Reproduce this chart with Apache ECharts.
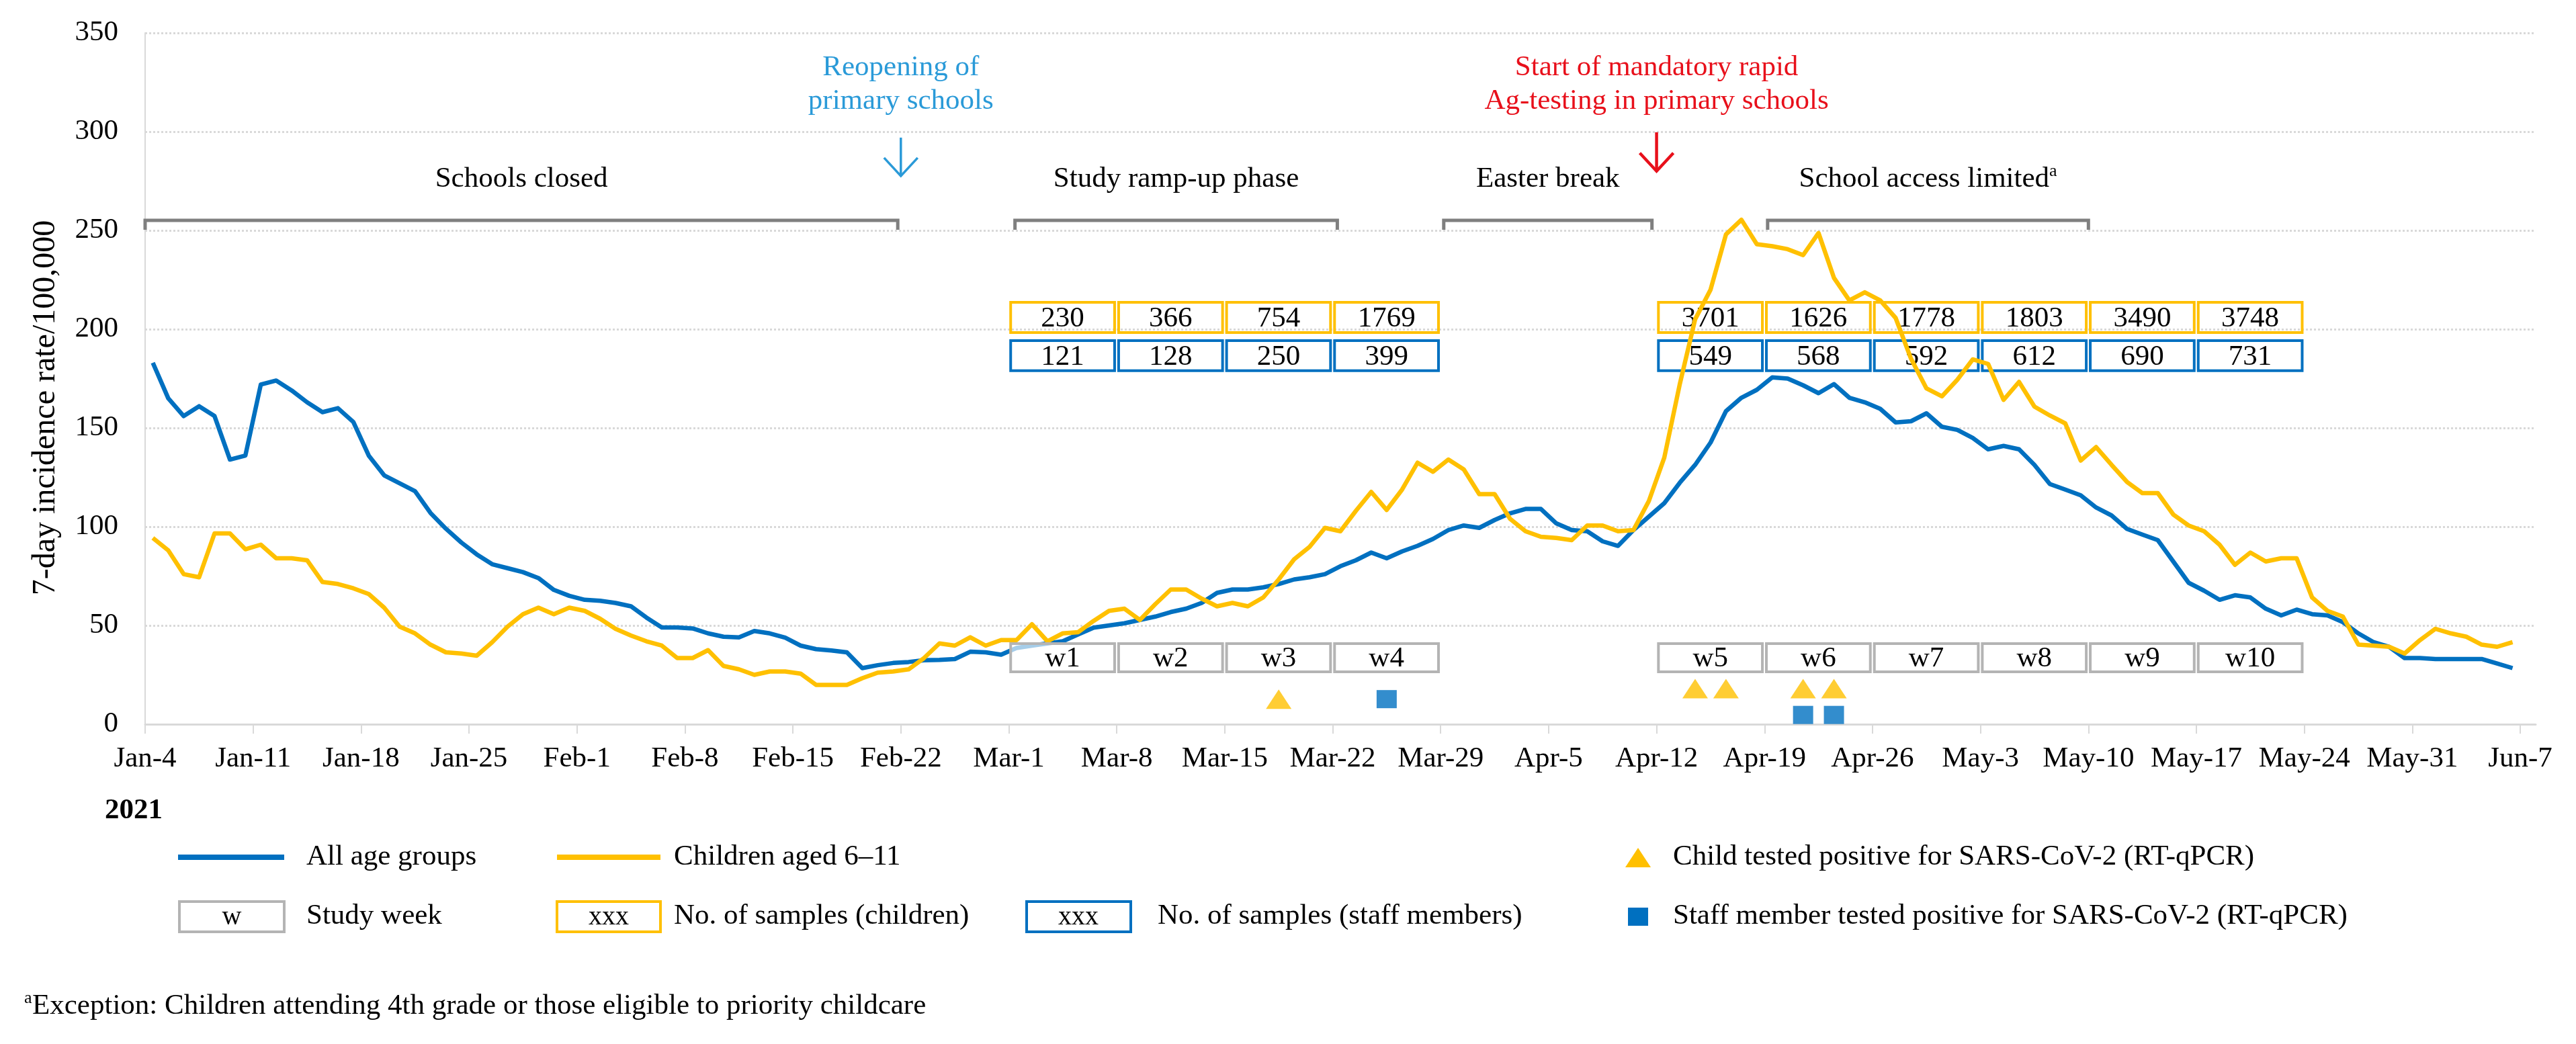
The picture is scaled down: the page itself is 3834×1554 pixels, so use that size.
<!DOCTYPE html>
<html><head><meta charset="utf-8">
<script src="https://cdn.jsdelivr.net/npm/echarts@6/dist/echarts.min.js"></script>
<style>html,body{margin:0;padding:0;background:#fff}#c{width:3834px;height:1554px}</style>
</head><body><div id="c"></div>
<script>
// ---------------- DATA ----------------
const START_DATE = '2021-01-04';
const tickLabels = ['Jan-4','Jan-11','Jan-18','Jan-25','Feb-1','Feb-8','Feb-15','Feb-22','Mar-1','Mar-8','Mar-15','Mar-22','Mar-29','Apr-5','Apr-12','Apr-19','Apr-26','May-3','May-10','May-17','May-24','May-31','Jun-7'];

// daily 7-day incidence, Jan-4 ... Jun-6
const allAgeGroups = [
 183,165,156,161,156,134,136,172,174,169,163,158,160,153,136,126,122,118,107,99,
 92,86,81,79,77,74,68,65,63,62.5,61.4,59.7,54,49,49,48.5,46,44.3,44,47.2,
 46,43.8,39.8,38,37.3,36.4,28.4,29.9,31,31.5,32.4,32.6,33,36.7,36.4,35.2,38.6,39.8,40.9,42,
 45.5,48.9,50,51.1,52.8,54.5,56.8,58.5,61.4,66.5,68.2,68.2,69.3,71,73.3,74.4,76,80,83,86.9,
 84,87.5,90.3,93.8,98.3,100.6,99.4,103.4,106.8,109,109,101.7,98.3,97.7,92.6,90.3,98.3,105.1,111.9,122.2,
 131.3,142.6,158.5,165.3,169.3,175.6,175,171.6,167.6,172.2,165.3,163,159.7,152.8,153.4,157.4,150.6,149,144.9,139.2,
 140.9,139.2,131.3,121.6,118.8,115.9,109.7,105.7,98.9,96,93.2,82.4,71.6,67.6,63,65.3,64.2,58.5,55.1,58,
 55.7,55.1,51.7,46,41.5,39.2,33.5,33.5,33,33,33,33,30.7,28.4
];
const childrenAged6to11 = [
 94.3,88,76,74.4,96.6,96.6,88.6,90.9,84,84,83,72,71,68.8,65.9,59,49.4,46,40.3,36.4,
 35.8,34.7,41.5,49.4,55.7,59,55.7,59,57.4,53.4,48.3,44.9,42,39.8,33.5,33.5,37.5,29.5,27.8,25,
 26.7,26.7,25.6,19.9,19.9,19.9,23.3,26.1,26.7,27.8,33.5,40.9,39.8,44,39.8,42.6,42.6,50.6,42,46,
 46.6,52.3,57.4,58.5,52.8,60.8,68.2,68.2,63.6,59.7,61.4,59.7,64.2,73.3,83.5,89.8,99.4,97.7,108,117.6,
 108.5,118.8,132.4,127.8,134,129,116.5,116.5,104,97.7,94.9,94.3,93.2,100.6,100.6,97.7,98.3,113,135,172,
 205,220,248,255.4,243,242,240.5,237.5,248.7,226,214.6,218.7,214.6,205.7,185,170,166,174.4,184.7,182.4,
 164.2,173.3,160.8,156.3,152.3,133.5,140.3,131.3,122.7,117,117,106.2,100.6,97.7,90.9,80.7,86.9,82.4,84,84,
 64.2,57.4,54.5,40.3,39.8,39.2,35.8,42.6,48.3,46,44.3,40.3,39.2,41.5
];

const studyWeeks = ['w1','w2','w3','w4','w5','w6','w7','w8','w9','w10'];
const weekStarts = ['2021-03-01','2021-03-08','2021-03-15','2021-03-22','2021-04-12','2021-04-19','2021-04-26','2021-05-03','2021-05-10','2021-05-17'];
const childSamples = [230,366,754,1769,3701,1626,1778,1803,3490,3748];
const staffSamples = [121,128,250,399,549,568,592,612,690,731];

const periodNames = ['Schools closed','Study ramp-up phase','Easter break','School access limited'];
const periodStart = [0, 56.4, 84.2, 105.2];   // in days since Jan-4
const periodEnd   = [48.8, 77.3, 97.7, 126.0];

const eventDates = ['2021-02-22','2021-04-12'];
const eventTexts = ['Reopening of\nprimary schools','Start of mandatory rapid\nAg-testing in primary schools'];

const childPositiveDates = ['2021-03-18','2021-04-14','2021-04-16','2021-04-21','2021-04-23'];
const childPositiveLevel = [12.7,18,18,18,18];
const staffPositiveDates = ['2021-03-25','2021-04-21','2021-04-23'];
const staffPositiveLevel = [12.7,4.7,4.7];

// ---------------- HELPERS ----------------
const DAY = 86400000;
const t0 = Date.parse(START_DATE + 'T00:00:00Z');
const dayIdx = s => Math.round((Date.parse(s + 'T00:00:00Z') - t0) / DAY);
const FONT = '"Liberation Serif", "Times New Roman", serif';
const BLUE = '#0070c0', GOLD = '#ffc000', GRAY = '#b4b4b4';
const tickValues = tickLabels.map((_, i) => i * 7);

// box levels (value units)
const yBoxTop = 213.6, yBoxBot = 198.3, sBoxTop = 194.2, sBoxBot = 179.0, wBoxTop = 40.8, wBoxBot = 26.5;

function boxSeries(name, labels, vTop, vBot, stroke, fill, z) {
  return {
    type: 'custom', name, z, silent: true,
    data: weekStarts.map(s => [dayIdx(s) + 0.12, dayIdx(s) + 6.86, vTop, vBot]),
    encode: { x: [0, 1], y: [2, 3] },
    renderItem(params, api) {
      const p0 = api.coord([api.value(0), api.value(2)]);
      const p1 = api.coord([api.value(1), api.value(3)]);
      return { type: 'group', children: [
        { type: 'rect', shape: { x: p0[0], y: p0[1], width: p1[0] - p0[0], height: p1[1] - p0[1] },
          style: { fill, stroke, lineWidth: 4 } },
        { type: 'text', x: (p0[0] + p1[0]) / 2, y: (p0[1] + p1[1]) / 2 + 2,
          style: { text: String(labels[params.dataIndex]), fontSize: 43, fontFamily: FONT, fill: '#000', align: 'center', verticalAlign: 'middle' } }
      ]};
    }
  };
}

const chart = echarts.init(document.getElementById('c'), null, { renderer: 'canvas' });
const option = {
  animation: false,
  backgroundColor: '#fff',
  textStyle: { fontFamily: FONT },
  grid: { left: 216, right: 60, top: 49, bottom: 476, outerBoundsMode: 'none' },
  xAxis: {
    type: 'value', min: 0, max: 155,
    axisLine: { show: true, lineStyle: { color: '#d9d9d9', width: 3 } },
    axisTick: { show: true, customValues: tickValues, length: 14, lineStyle: { color: '#d9d9d9', width: 2 } },
    axisLabel: { customValues: tickValues, formatter: v => tickLabels[Math.round(v / 7)] || '', fontSize: 43, fontFamily: FONT, color: '#000', margin: 30 },
    splitLine: { show: false }
  },
  yAxis: {
    type: 'value', min: 0, max: 350, interval: 50,
    axisLine: { show: true, lineStyle: { color: '#d9d9d9', width: 2 } },
    axisTick: { show: false },
    axisLabel: { fontSize: 43, fontFamily: FONT, color: '#000', margin: 40 },
    splitLine: { show: true, lineStyle: { color: '#d9d9d9', width: 3, type: [3, 3] } }
  },
  series: [
    boxSeries('childSamples', childSamples, yBoxTop, yBoxBot, GOLD, 'rgba(255,255,255,0)', 1),
    boxSeries('staffSamples', staffSamples, sBoxTop, sBoxBot, BLUE, 'rgba(255,255,255,0)', 1),
    {
      type: 'line', name: 'All age groups', z: 3, showSymbol: false, silent: true,
      data: allAgeGroups.map((v, i) => [i + 0.5, v]),
      lineStyle: { color: BLUE, width: 6.5, join: 'round' }, itemStyle: { color: BLUE }
    },
    {
      type: 'line', name: 'Children aged 6–11', z: 4, showSymbol: false, silent: true,
      data: childrenAged6to11.map((v, i) => [i + 0.5, v]),
      lineStyle: { color: GOLD, width: 6.5, join: 'round' }, itemStyle: { color: GOLD }
    },
    boxSeries('studyWeeks', studyWeeks, wBoxTop, wBoxBot, GRAY, 'rgba(255,255,255,0.65)', 5),
    {
      type: 'scatter', name: 'Child positive', z: 6, silent: true,
      symbol: 'triangle', symbolSize: [38, 29],
      data: childPositiveDates.map((d, i) => [dayIdx(d) + 0.5, childPositiveLevel[i]]),
      itemStyle: { color: GOLD }
    },
    {
      type: 'scatter', name: 'Staff positive', z: 6, silent: true,
      symbol: 'rect', symbolSize: [30, 27],
      data: staffPositiveDates.map((d, i) => [dayIdx(d) + 0.5, staffPositiveLevel[i]]),
      itemStyle: { color: BLUE }
    },
    { // period brackets
      type: 'custom', name: 'periods', z: 6, silent: true,
      data: periodStart.map((s, i) => [s, periodEnd[i], 255.1, 250.3, 275.8]),
      encode: { x: [0, 1], y: [2, 3] },
      renderItem(params, api) {
        const a = api.coord([api.value(0), api.value(2)]);
        const b = api.coord([api.value(1), api.value(3)]);
        const t = api.coord([(api.value(0) + api.value(1)) / 2, api.value(4)]);
        const name = periodNames[params.dataIndex];
        const txt = params.dataIndex === 3 ? '{m|' + name + '}{s|a}' : '{m|' + name + '}';
        return { type: 'group', children: [
          { type: 'polyline', shape: { points: [[a[0], b[1]], [a[0], a[1]], [b[0], a[1]], [b[0], b[1]]] },
            style: { stroke: '#7f7f7f', lineWidth: 5, fill: null } },
          { type: 'text', x: t[0], y: t[1],
            style: { text: txt, align: 'center', verticalAlign: 'middle',
              rich: { m: { fontSize: 43, fontFamily: FONT, fill: '#000', lineHeight: 50 },
                      s: { fontSize: 26, fontFamily: FONT, fill: '#000', lineHeight: 50, verticalAlign: 'top', padding: [0, 0, 26, 0] } } } }
        ]};
      }
    },
    { // event arrows
      type: 'custom', name: 'events', z: 6, silent: true,
      data: eventDates.map((d, i) => [dayIdx(d), i === 0 ? 297 : 299.7, i === 0 ? 277.6 : 280, 324]),
      encode: { x: 0, y: [1, 2] },
      renderItem(params, api) {
        const col = params.dataIndex === 0 ? '#2a9ad8' : '#e8101b';
        const lw = params.dataIndex === 0 ? 3.5 : 4.5;
        const top = api.coord([api.value(0), api.value(1)]);
        const bot = api.coord([api.value(0), api.value(2)]);
        const t = api.coord([api.value(0), api.value(3)]);
        return { type: 'group', children: [
          { type: 'line', shape: { x1: top[0], y1: top[1], x2: bot[0], y2: bot[1] }, style: { stroke: col, lineWidth: lw } },
          { type: 'polyline', shape: { points: [[bot[0] - 25, bot[1] - 27], [bot[0], bot[1]], [bot[0] + 25, bot[1] - 27]] },
            style: { stroke: col, lineWidth: lw, fill: null } },
          { type: 'text', x: t[0], y: t[1],
            style: { text: eventTexts[params.dataIndex], fontSize: 43, lineHeight: 50, fontFamily: FONT, fill: col, align: 'center', verticalAlign: 'middle' } }
        ]};
      }
    }
  ],
  graphic: [
    { type: 'text', x: 68, y: 607, rotation: Math.PI / 2,
      style: { text: '7-day incidence rate/100,000', fontSize: 48, fontFamily: FONT, fill: '#000', align: 'center', verticalAlign: 'middle' } },
    { type: 'text', x: 199, y: 1207, style: { text: '2021', fontSize: 43, fontWeight: 'bold', fontFamily: FONT, fill: '#000', align: 'center', verticalAlign: 'middle' } },
    // legend row 1
    { type: 'line', shape: { x1: 265, y1: 1276, x2: 423, y2: 1276 }, style: { stroke: BLUE, lineWidth: 8 } },
    { type: 'text', x: 456, y: 1276, style: { text: 'All age groups', fontSize: 43, fontFamily: FONT, fill: '#000', verticalAlign: 'middle' } },
    { type: 'line', shape: { x1: 829, y1: 1276, x2: 983, y2: 1276 }, style: { stroke: GOLD, lineWidth: 8 } },
    { type: 'text', x: 1003, y: 1276, style: { text: 'Children aged 6–11', fontSize: 43, fontFamily: FONT, fill: '#000', verticalAlign: 'middle' } },
    { type: 'polygon', shape: { points: [[2438, 1262], [2457, 1291], [2419, 1291]] }, style: { fill: GOLD } },
    { type: 'text', x: 2490, y: 1276, style: { text: 'Child tested positive for SARS-CoV-2 (RT-qPCR)', fontSize: 43, fontFamily: FONT, fill: '#000', verticalAlign: 'middle' } },
    // legend row 2
    { type: 'rect', shape: { x: 267, y: 1342, width: 156, height: 45 }, style: { fill: '#fff', stroke: GRAY, lineWidth: 4 } },
    { type: 'text', x: 345, y: 1365, style: { text: 'w', fontSize: 40, fontFamily: FONT, fill: '#000', align: 'center', verticalAlign: 'middle' } },
    { type: 'text', x: 456, y: 1364, style: { text: 'Study week', fontSize: 43, fontFamily: FONT, fill: '#000', verticalAlign: 'middle' } },
    { type: 'rect', shape: { x: 829, y: 1342, width: 154, height: 45 }, style: { fill: '#fff', stroke: GOLD, lineWidth: 4 } },
    { type: 'text', x: 906, y: 1365, style: { text: 'xxx', fontSize: 40, fontFamily: FONT, fill: '#000', align: 'center', verticalAlign: 'middle' } },
    { type: 'text', x: 1003, y: 1364, style: { text: 'No. of samples (children)', fontSize: 43, fontFamily: FONT, fill: '#000', verticalAlign: 'middle' } },
    { type: 'rect', shape: { x: 1528, y: 1342, width: 155, height: 45 }, style: { fill: '#fff', stroke: BLUE, lineWidth: 4 } },
    { type: 'text', x: 1605, y: 1365, style: { text: 'xxx', fontSize: 40, fontFamily: FONT, fill: '#000', align: 'center', verticalAlign: 'middle' } },
    { type: 'text', x: 1723, y: 1364, style: { text: 'No. of samples (staff members)', fontSize: 43, fontFamily: FONT, fill: '#000', verticalAlign: 'middle' } },
    { type: 'rect', shape: { x: 2423, y: 1351, width: 30, height: 27 }, style: { fill: BLUE } },
    { type: 'text', x: 2490, y: 1364, style: { text: 'Staff member tested positive for SARS-CoV-2 (RT-qPCR)', fontSize: 43, fontFamily: FONT, fill: '#000', verticalAlign: 'middle' } },
    // footnote
    { type: 'text', x: 36, y: 1486, style: { text: 'a', fontSize: 26, fontFamily: FONT, fill: '#000', verticalAlign: 'middle' } },
    { type: 'text', x: 48, y: 1498, style: { text: 'Exception: Children attending 4th grade or those eligible to priority childcare', fontSize: 43, fontFamily: FONT, fill: '#000', verticalAlign: 'middle' } }
  ]
};
chart.setOption(option);
</script>
</body></html>
